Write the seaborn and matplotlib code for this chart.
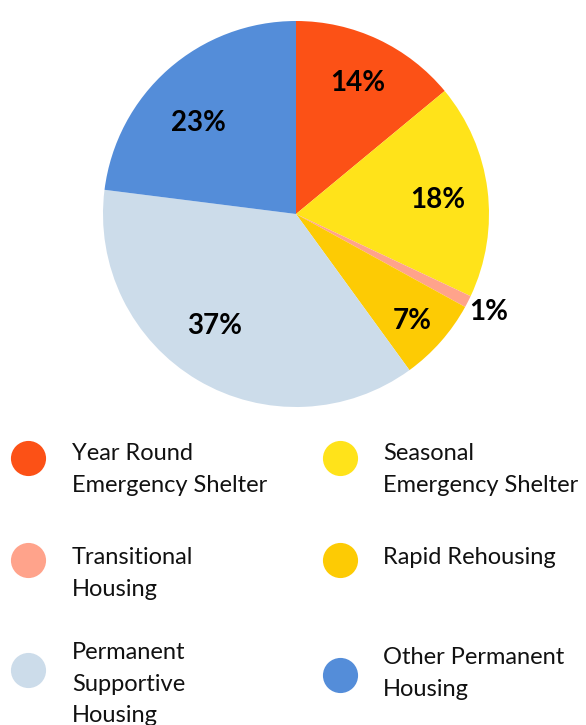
import matplotlib
matplotlib.use("Agg")
import matplotlib.pyplot as plt
import numpy as np
import seaborn as sns

# data
CATEGORIES = [
    "Year Round\nEmergency Shelter",
    "Seasonal\nEmergency Shelter",
    "Transitional\nHousing",
    "Rapid Rehousing",
    "Permanent\nSupportive\nHousing",
    "Other Permanent\nHousing",
]
SHARES = [14, 18, 1, 7, 37, 23]
COLORS = ["#FC5116", "#FFE31A", "#FFA38B", "#FDCB04", "#CCDCEA", "#548DD9"]

# where each percentage label sits: fraction of radius, and nudge (deg) off the wedge middle
LABEL_RADIUS = [0.75, 0.74, 1.12, 0.82, 0.72, 0.69]
LABEL_NUDGE = [0, -1.5, 0, -1.3, -5.4, 5.6]

# legend layout in pixels: (circle x, circle y, text x, text top)
LEGEND_ORDER = [0, 2, 4, 1, 3, 5]
LEGEND_SLOTS = [
    (27.5, 458, 72, 443),
    (27.5, 560, 72, 547),
    (27.5, 670, 72, 642),
    (339.5, 458, 383, 443),
    (339.5, 560, 383, 547),
    (339.5, 675, 383, 647),
]

sns.set_theme(style="white")
plt.rcParams["font.family"] = ["Lato", "DejaVu Sans"]

W, H = 586, 725
fig = plt.figure(figsize=(W / 100, H / 100), dpi=100)

cx, cy, r = 296, 214, 193
ax = fig.add_axes([(cx - r) / W, (H - cy - r) / H, 2 * r / W, 2 * r / H])
wedges, _ = ax.pie(
    SHARES,
    colors=sns.color_palette(COLORS),
    startangle=90,
    counterclock=False,
    radius=1,
    wedgeprops={"linewidth": 0},
)
ax.set_xlim(-1, 1)
ax.set_ylim(-1, 1)
for w, share, rad, nudge in zip(wedges, SHARES, LABEL_RADIUS, LABEL_NUDGE):
    ang = np.deg2rad((w.theta1 + w.theta2) / 2 + nudge)
    ax.text(
        rad * np.cos(ang),
        rad * np.sin(ang),
        f"{share}%",
        ha="center",
        va="center",
        fontsize=20,
        fontweight="bold",
        color="black",
    )

leg = fig.add_axes([0, 0, 1, 1])
leg.set_xlim(0, W)
leg.set_ylim(H, 0)
leg.axis("off")
for idx, (px, py, tx, ty) in zip(LEGEND_ORDER, LEGEND_SLOTS):
    leg.scatter([px], [py], s=640, color=COLORS[idx], linewidths=0)
    leg.text(
        tx,
        ty,
        CATEGORIES[idx],
        ha="left",
        va="top",
        fontsize=17,
        color="#111111",
        linespacing=1.62,
    )

fig.savefig("out.png", dpi=100)
